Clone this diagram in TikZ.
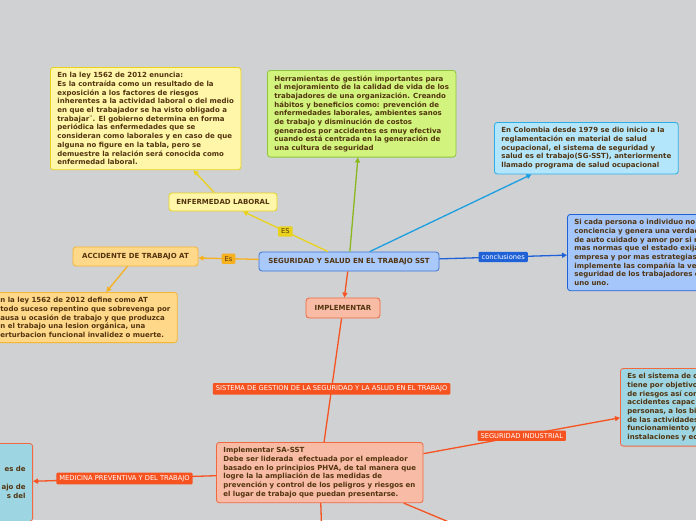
\documentclass[tikz,border=0pt]{standalone}
\usepackage{fontspec}
\usepackage{tikz}
\usetikzlibrary{arrows.meta, positioning}
\newfontfamily\mapabold{DejaVu Sans Bold}
\newfontfamily\mapareg{DejaVu Sans}
\definecolor{fondo}{HTML}{D0D1D3}
\definecolor{cafe}{HTML}{52340F}
\definecolor{amarillofondo}{HTML}{FFF6AA}
\definecolor{amarilloborde}{HTML}{E9D21C}
\definecolor{verdefondo}{HTML}{D2F37D}
\definecolor{verdeborde}{HTML}{8DC53E}
\definecolor{verdelinea}{HTML}{8AB81E}
\definecolor{celeste}{HTML}{B3E5FB}
\definecolor{celesteborde}{HTML}{2BAEE8}
\definecolor{celestelinea}{HTML}{1A9FE3}
\definecolor{azulcentral}{HTML}{A9C9FA}
\definecolor{azulborde}{HTML}{3D74D6}
\definecolor{azulconcl}{HTML}{A4C6FA}
\definecolor{azulfuerte}{HTML}{1F62D8}
\definecolor{naranjafondo}{HTML}{FFD88A}
\definecolor{naranjaborde}{HTML}{F6B630}
\definecolor{naranjalinea}{HTML}{F7B11E}
\definecolor{salmon}{HTML}{F8BBA5}
\definecolor{rojoborde}{HTML}{F2683F}
\definecolor{rojolinea}{HTML}{F65320}
\definecolor{turquesa}{HTML}{9DD5E2}

\begin{document}
\begin{tikzpicture}[
  x=1pt, y=-1pt,
  every node/.style={font=\mapabold\fontsize{7.0}{8.7}\selectfont, text=cafe},
  caja/.style={
    draw, rounded corners=3pt, align=left,
    inner xsep=7pt, inner ysep=5pt, line width=0.8pt
  },
  tema/.style={
    draw, rounded corners=3pt, align=center,
    inner sep=3pt, line width=0.8pt
  },
  etiqueta/.style={
    font=\mapareg\fontsize{6.7}{7.5}\selectfont, text=white,
    fill=rojolinea, rounded corners=1pt, inner xsep=3pt, inner ysep=2.6pt
  },
  flecha/.style={-{Triangle[length=5pt, width=5pt]}, line width=1.3pt},
  linea/.style={line width=1.3pt}
]
  \useasboundingbox (0,0) rectangle (696,520);
  \fill[fondo] (0,0) rectangle (696,520);
  \clip (0,0) rectangle (696,520);

  % Nodo central y temas
  \node[tema, fill=azulcentral, draw=azulborde, minimum width=180pt, minimum height=19pt] (sst) at (349,261.5) {SEGURIDAD Y SALUD EN EL TRABAJO SST};
  \node[tema, fill=amarillofondo, draw=amarilloborde, minimum width=108pt, minimum height=18pt] (enflab) at (223,202) {ENFERMEDAD LABORAL};
  \node[tema, fill=naranjafondo, draw=naranjaborde, minimum width=125pt, minimum height=19pt] (acc) at (135.5,256.5) {ACCIDENTE DE TRABAJO AT};
  \node[tema, fill=salmon, draw=rojoborde, minimum width=74pt, minimum height=20pt] (impl) at (343,308) {IMPLEMENTAR};

  % Cajas de texto
  \node[caja, fill=amarillofondo, draw=amarilloborde, anchor=north west] (enfdesc) at (50,67) {En la ley 1562 de 2012 enuncia:\\
    Es la contraída como un resultado de la\\
    exposición a los factores de riesgos\\
    inherentes a la actividad laboral o del medio\\
    en que el trabajador se ha visto obligado a\\
    trabajar¨. El gobierno determina en forma\\
    periódica las enfermedades que se\\
    consideran como laborales y en caso de que\\
    alguna no figure en la tabla, pero se\\
    demuestre la relación será conocida como\\
    enfermedad laboral.};
  \node[caja, fill=verdefondo, draw=verdeborde, anchor=north west] (verde) at (267,70) {Herramientas de gestión importantes para\\
    el mejoramiento de la calidad de vida de los\\
    trabajadores de una organización. Creando\\
    hábitos y beneficios como: prevención de\\
    enfermedades laborales, ambientes sanos\\
    de trabajo y disminución de costos\\
    generados por accidentes es muy efectiva\\
    cuando está centrada en la generación de\\
    una cultura de seguridad};
  \node[caja, fill=celeste, draw=celesteborde, anchor=north west] (colombia) at (494,122) {En Colombia desde 1979 se dio inicio a la\\
    reglamentación en material de salud\\
    ocupacional, el sistema de seguridad y\\
    salud es el trabajo(SG-SST), anteriormente\\
    llamado programa de salud ocupacional};
  \node[caja, fill=azulconcl, draw=azulfuerte, anchor=north west, text width=160pt] (concl) at (567,214) {Si cada persona o individuo no\\
    conciencia y genera una verdad\\
    de auto cuidado y amor por si m\\
    mas normas que el estado exija\\
    empresa y por mas estrategias\\
    implemente las compañía la ve\\
    seguridad de los trabajadores e\\
    uno uno.};
  \node[caja, fill=naranjafondo, draw=naranjaborde, anchor=north west] (accdesc) at (-7,292) {n la ley 1562 de 2012 define como AT\\
    todo suceso repentino que sobrevenga por\\
    ausa u ocasión de trabajo y que produzca\\
    n el trabajo una lesion orgánica, una\\
    erturbacion funcional invalidez o muerte.};
  \node[caja, fill=salmon, draw=rojoborde, anchor=north west] (sasst) at (216,442) {Implementar SA-SST\\
    Debe ser liderada\ \ efectuada por el empleador\\
    basado en lo principios PHVA, de tal manera que\\
    logre la la ampliación de las medidas de\\
    prevención y control de los peligros y riesgos en\\
    el lugar de trabajo que puedan presentarse.};
  \node[caja, fill=turquesa, draw=rojoborde, anchor=north west, text width=100pt] (indus) at (620,368) {Es el sistema de c\\
    tiene por objetivo\\
    de riesgos así com\\
    accidentes capac\\
    personas, a los bi\\
    de las actividades\\
    funcionamiento y\\
    instalaciones y ec};
  \node[caja, fill=turquesa, draw=rojoborde, anchor=north east, align=right, text width=60pt, minimum height=78pt] (medic) at (33,443) {es de\\[8.7pt]
    ajo de\\
    s del};

  % Puntos fuera del cuadro
  \coordinate (bajoA) at (322,540);
  \coordinate (bajoB) at (480,535);

  % Conectores
  \draw[flecha, amarilloborde] (sst) -- (enflab)
    node[etiqueta, midway, fill=amarilloborde, text=cafe] {ES};
  \draw[flecha, amarilloborde] (enflab) -- (enfdesc);
  \draw[flecha, verdelinea] (sst) -- (verde);
  \draw[flecha, celestelinea] (sst) -- (colombia);
  \draw[flecha, azulfuerte] (sst) -- (concl)
    node[etiqueta, midway, fill=azulfuerte] {conclusiones};
  \draw[flecha, naranjalinea] (sst) -- (acc)
    node[etiqueta, midway, fill=naranjalinea, text=cafe] {Es};
  \draw[flecha, naranjalinea] (acc) -- (accdesc);
  \draw[flecha, rojolinea] (sst) -- (impl);
  \draw[linea, rojolinea] (impl) -- (sasst)
    node[etiqueta, pos=0.57] {SISTEMA DE GESTION DE LA SEGURIDAD Y LA ASLUD EN EL TRABAJO};
  \draw[flecha, rojolinea] (sasst) -- (indus)
    node[etiqueta, midway] {SEGURIDAD INDUSTRIAL};
  \draw[flecha, rojolinea] (sasst) -- (medic)
    node[etiqueta, midway] {MEDICINA PREVENTIVA Y DEL TRABAJO};
  \draw[linea, rojolinea] (sasst) -- (bajoA);
  \draw[linea, rojolinea] (sasst.-20) -- (bajoB);
\end{tikzpicture}
\end{document}
